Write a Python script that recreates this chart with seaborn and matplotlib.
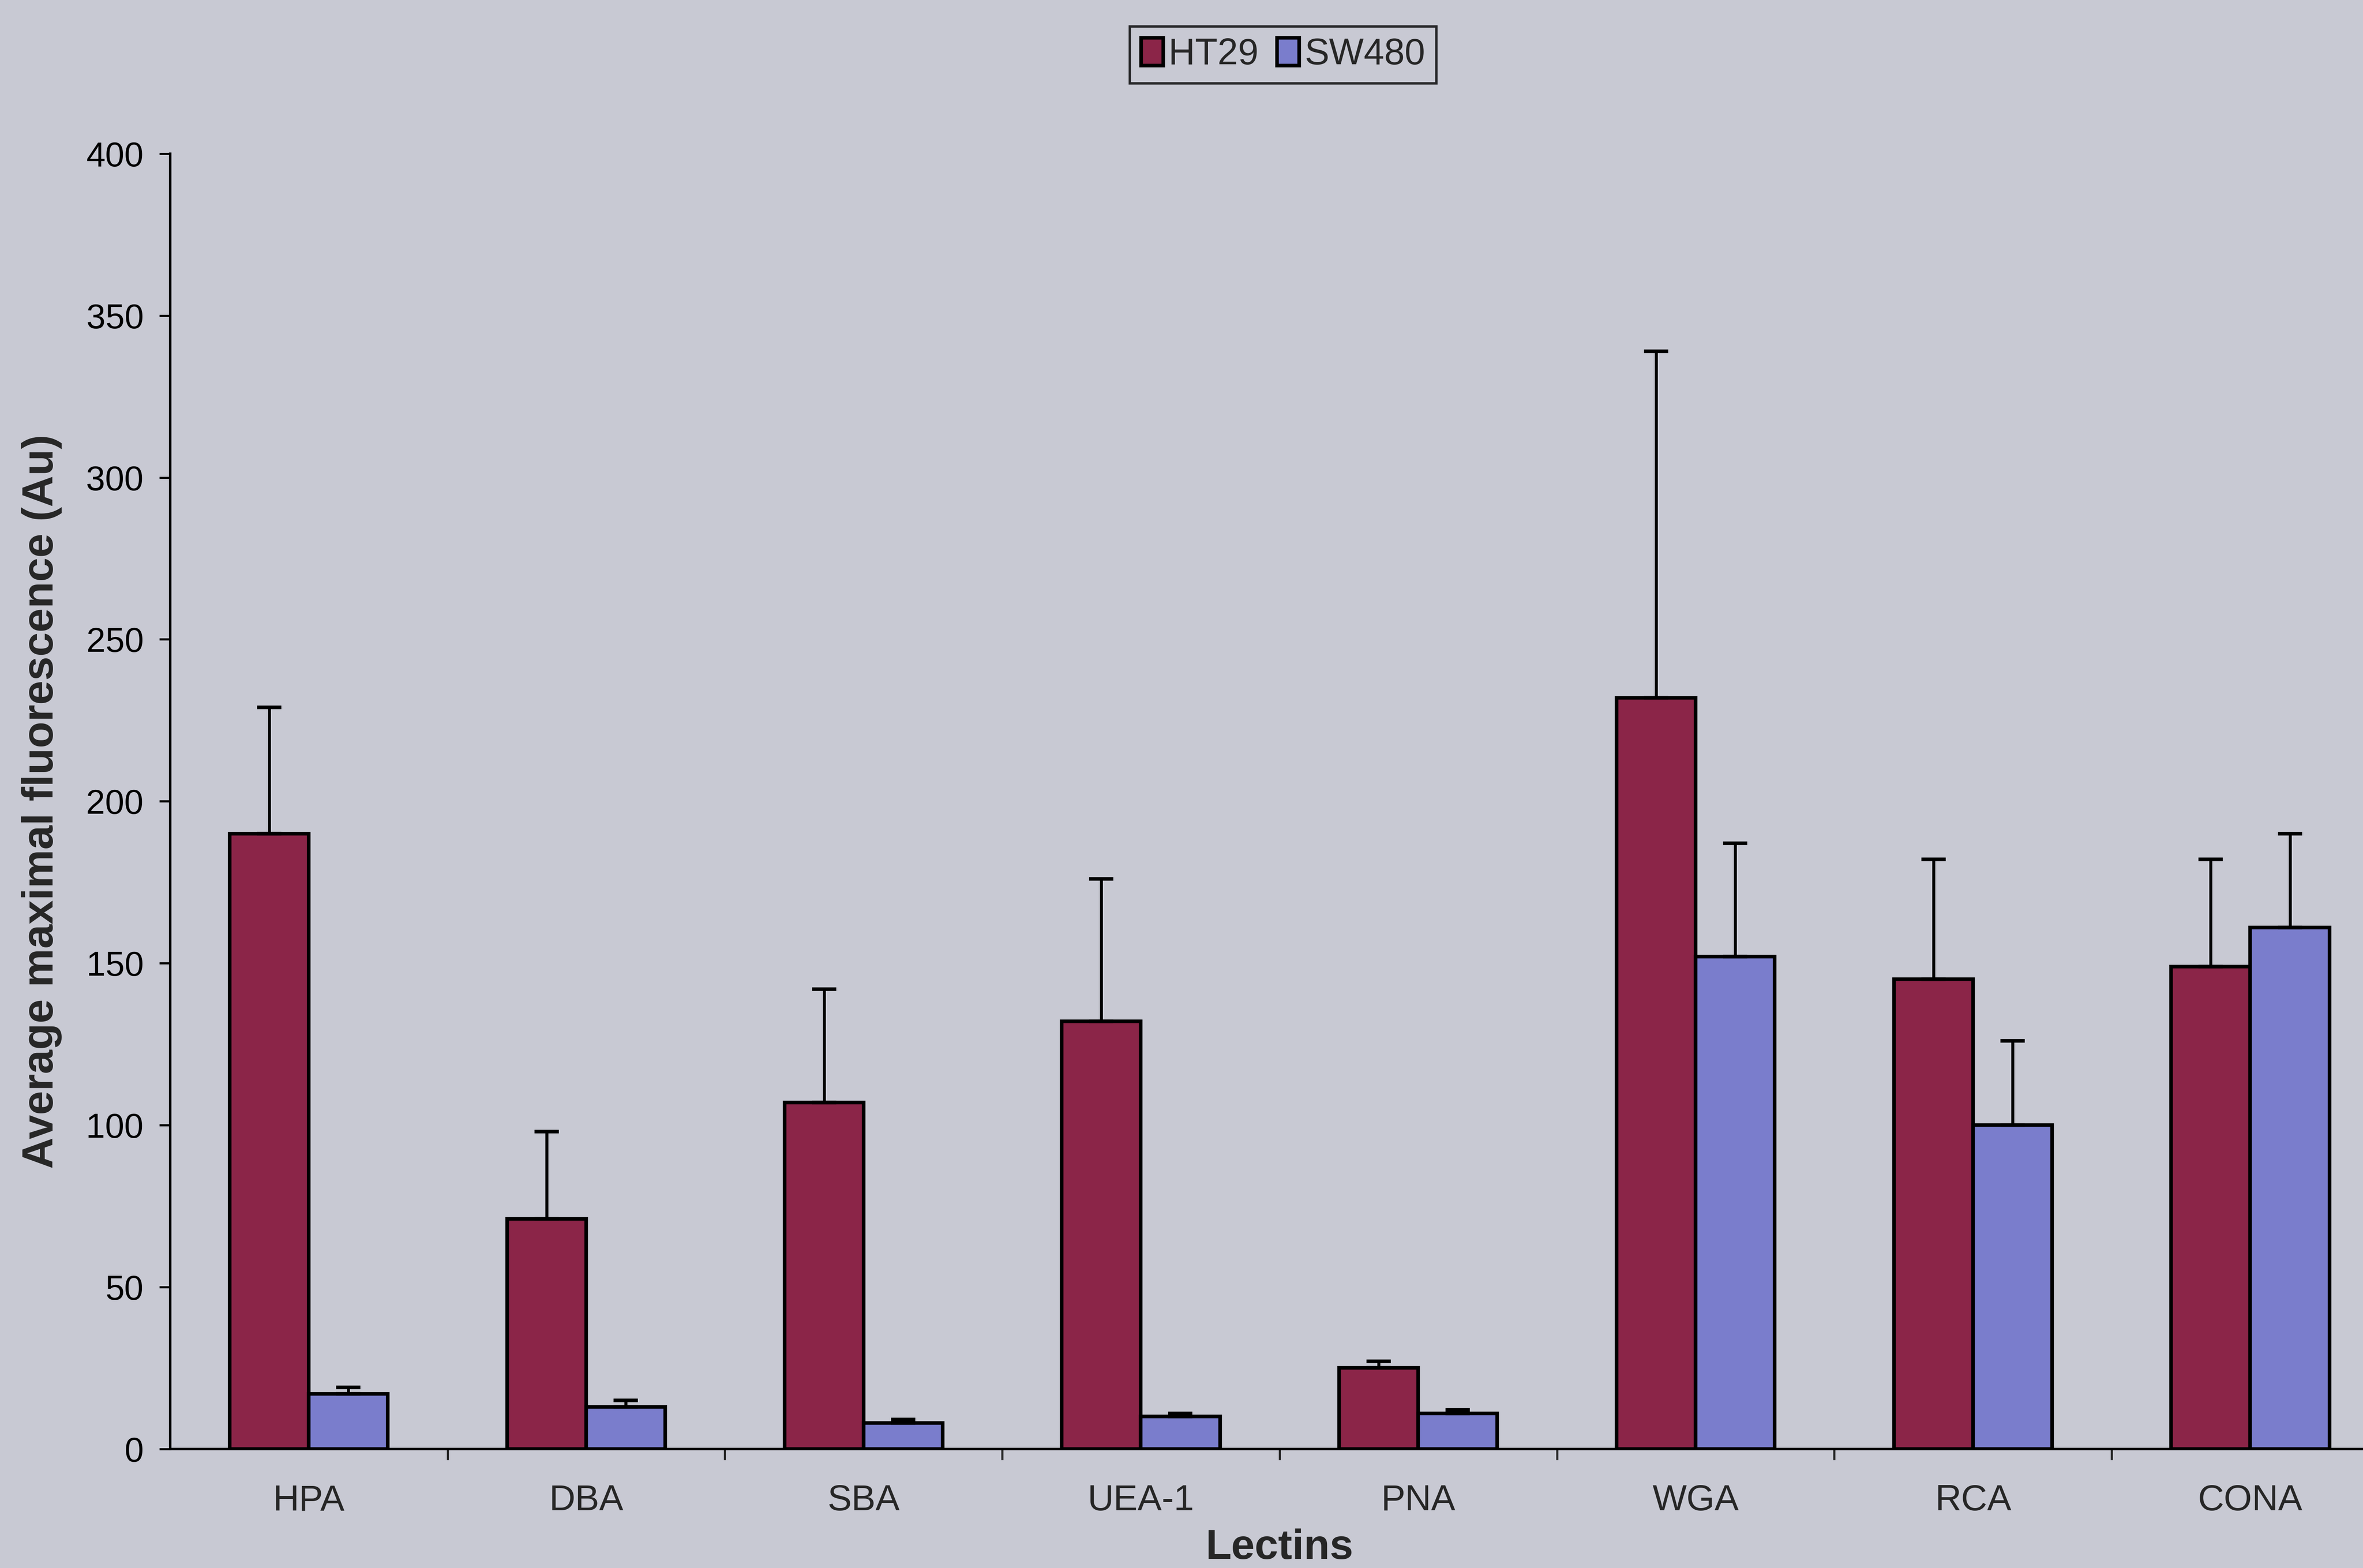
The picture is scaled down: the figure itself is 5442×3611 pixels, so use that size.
import matplotlib
matplotlib.use("Agg")
import matplotlib.pyplot as plt
import matplotlib.patches as mpatches
import seaborn as sns
import pandas as pd
import numpy as np

# ---- data ----
lectins = ["HPA", "DBA", "SBA", "UEA-1", "PNA", "WGA", "RCA", "CONA"]
ht29 = [190, 71, 107, 132, 25, 232, 145, 149]
ht29_err = [39, 27, 35, 44, 2, 107, 37, 33]
sw480 = [17, 13, 8, 10, 11, 152, 100, 161]
sw480_err = [2, 2, 1, 1, 1, 35, 26, 29]
series = ["HT29", "SW480"]
colors = {"HT29": "#8b2548", "SW480": "#7a7dcc"}
yticks = [0, 50, 100, 150, 200, 250, 300, 350, 400]

df = pd.DataFrame({
    "Lectins": lectins * 2,
    "value": ht29 + sw480,
    "err": ht29_err + sw480_err,
    "series": ["HT29"] * len(lectins) + ["SW480"] * len(lectins),
})

sns.set_theme(style="white")
plt.rcParams["font.family"] = ["Liberation Sans", "DejaVu Sans"]

bg = "#c8c9d3"
fig = plt.figure(figsize=(54.42, 36.11), dpi=100, facecolor=bg)
ax = fig.add_axes([0.072, 0.076, 0.939, 0.826])
ax.set_facecolor(bg)

sns.barplot(data=df, x="Lectins", y="value", hue="series", hue_order=series,
            palette=colors, width=0.57, gap=0, edgecolor="black", linewidth=6,
            errorbar=None, legend=False, ax=ax, saturation=1)

errs = {"HT29": ht29_err, "SW480": sw480_err}
for cont, name in zip(ax.containers, series):
    xs = [p.get_x() + p.get_width() / 2 for p in cont.patches]
    hs = [p.get_height() for p in cont.patches]
    e = errs[name]
    ax.errorbar(xs, hs, yerr=[np.zeros(len(e)), e], fmt="none", ecolor="black",
                elinewidth=5, capsize=20, capthick=6, zorder=3)

ax.set_ylim(0, 400)
ax.set_xlim(-0.5, len(lectins) - 0.5)
ax.set_yticks(yticks)
ax.set_yticklabels([str(t) for t in yticks], fontsize=57)
ax.tick_params(axis="y", direction="out", length=18, width=3.5, pad=26, left=True, colors="black")
ax.set_xticks(range(len(lectins)))
ax.set_xticklabels(lectins, fontsize=60)
ax.tick_params(axis="x", which="major", length=0, pad=58)
ax.set_xticks(np.arange(0.5, len(lectins) - 0.5, 1.0), minor=True)
ax.tick_params(axis="x", which="minor", direction="out", length=18, width=3.5, bottom=True)

for s in ["top", "right"]:
    ax.spines[s].set_visible(False)
for s in ["left", "bottom"]:
    ax.spines[s].set_color("black")
    ax.spines[s].set_linewidth(4)

ax.set_xlabel("Lectins", fontsize=70, fontweight="bold", labelpad=18)
ax.set_ylabel("Average maximal fluorescence (Au)", fontsize=72, fontweight="bold", labelpad=40)

handles = [mpatches.Patch(facecolor=colors[s], edgecolor="black", linewidth=6, label=s) for s in series]
leg = fig.legend(handles=handles, loc="center", bbox_to_anchor=(0.543, 0.965), ncol=2,
                 fontsize=61, frameon=True, fancybox=False, edgecolor="black",
                 handlelength=0.6, handleheight=0.8, handletextpad=0.15,
                 columnspacing=0.5, borderpad=0.3, borderaxespad=0)
leg.get_frame().set_linewidth(4)
leg.get_frame().set_facecolor(bg)

fig.savefig("out.png", dpi=100, facecolor=bg)
